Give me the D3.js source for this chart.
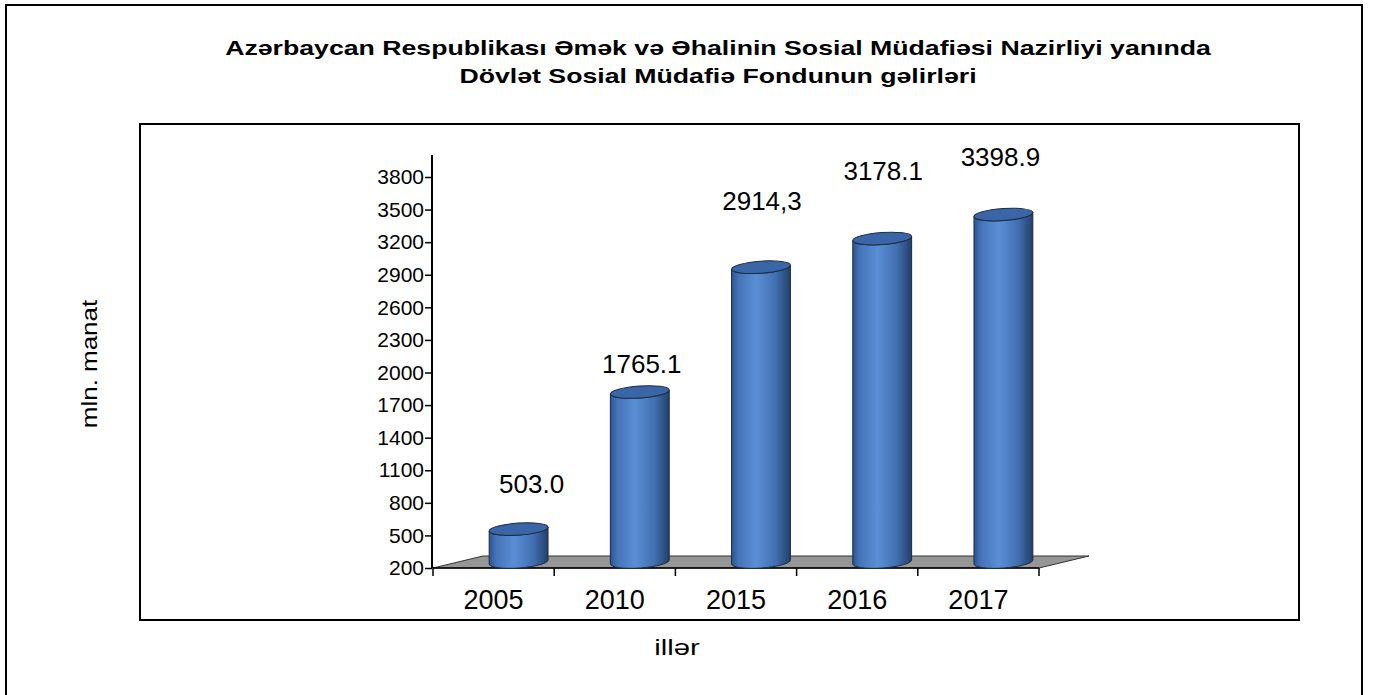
<!DOCTYPE html>
<html>
<head>
<meta charset="utf-8">
<script src="https://cdn.jsdelivr.net/npm/d3@7"></script>
<style>
body { margin: 0; background: #fff; }
text { font-family: "Liberation Sans", Arial, sans-serif; fill: #000; }
</style>
</head>
<body>
<div id="chart"></div>
<script>
// data
var years = ["2005", "2010", "2015", "2016", "2017"];
var income = [503.0, 1765.1, 2914.3, 3178.1, 3398.9];
var valueLabels = ["503.0", "1765.1", "2914,3", "3178.1", "3398.9"];
var yTicks = [200, 500, 800, 1100, 1400, 1700, 2000, 2300, 2600, 2900, 3200, 3500, 3800];
var titleLines = ["Azərbaycan Respublikası Əmək və Əhalinin Sosial Müdafiəsi Nazirliyi yanında",
                  "Dövlət Sosial Müdafiə Fondunun gəlirləri"];

var W = 1373, H = 695;
var svg = d3.select("#chart").append("svg").attr("width", W).attr("height", H);

// outer frame (bottom runs off the picture)
svg.append("path").attr("d", "M6,700 L6,5 L1362,5 L1362,700")
    .attr("fill", "none").attr("stroke", "#000").attr("stroke-width", 2);
// plot frame
svg.append("rect").attr("x", 140).attr("y", 124).attr("width", 1159).attr("height", 496)
    .attr("fill", "none").attr("stroke", "#000").attr("stroke-width", 2);

// title (the original text is drawn wide)
svg.selectAll(".title").data(titleLines).enter().append("text")
    .attr("transform", function (d, i) { return "translate(718," + (55 + i * 28) + ") scale(1.27,1)"; })
    .attr("text-anchor", "middle").attr("font-weight", "bold").attr("font-size", 21)
    .text(function (d) { return d; });

var y = d3.scaleLinear().domain([200, 3800]).range([568, 177]);
var x = d3.scaleBand().domain(years).range([433, 1039]);

var depthX = 50, depthY = -12;

// floor
var f0 = x.range()[0], f1 = x.range()[1], fy = y(200);
svg.append("path")
    .attr("d", "M" + f0 + "," + fy + "L" + f1 + "," + fy +
               "L" + (f1 + depthX) + "," + (fy + depthY) +
               "L" + (f0 + depthX) + "," + (fy + depthY) + "Z")
    .attr("fill", "#969696").attr("stroke", "#333").attr("stroke-width", 1);

// y axis
var yAxis = svg.append("g").attr("transform", "translate(432,0)")
    .call(d3.axisLeft(y).tickValues(yTicks).tickSize(7).tickPadding(1).tickFormat(d3.format("d")));
yAxis.select(".domain").remove();
yAxis.selectAll("line").attr("stroke", "#000").attr("stroke-width", 1.5);
yAxis.selectAll("text").attr("font-size", 21).attr("font-family", "Liberation Sans, Arial, sans-serif");
svg.append("line").attr("x1", 432).attr("x2", 432).attr("y1", 155).attr("y2", fy)
    .attr("stroke", "#000").attr("stroke-width", 2);

// x axis
var xAxis = svg.append("g").attr("transform", "translate(0," + fy + ")")
    .call(d3.axisBottom(x).tickSize(0).tickPadding(22));
xAxis.select(".domain").remove();
xAxis.selectAll("text").attr("font-size", 27).attr("font-family", "Liberation Sans, Arial, sans-serif");
var bounds = years.map(function (d) { return x(d); }).concat([f1]);
svg.selectAll(".xtick").data(bounds).enter().append("line")
    .attr("x1", function (d) { return d; }).attr("x2", function (d) { return d; })
    .attr("y1", fy).attr("y2", fy + 8).attr("stroke", "#000").attr("stroke-width", 1.5);
svg.append("line").attr("x1", f0).attr("x2", f1).attr("y1", fy).attr("y2", fy)
    .attr("stroke", "#000").attr("stroke-width", 1.5);

// cylinder gradient
var defs = svg.append("defs");
var grad = defs.append("linearGradient").attr("id", "body").attr("x1", "0").attr("x2", "1").attr("y1", "0").attr("y2", "0");
[["0%", "#2c5590"], ["12%", "#4574b8"], ["42%", "#5a8fd6"], ["75%", "#416fb0"], ["100%", "#233f68"]]
    .forEach(function (s) { grad.append("stop").attr("offset", s[0]).attr("stop-color", s[1]); });

var rx = 29.5, ry = 6, tilt = 4 * Math.PI / 180;
var ex = rx * Math.cos(tilt), ey = rx * Math.sin(tilt);

function cylBody(cx, top, bot) {
    return "M" + (cx - ex) + "," + (top + ey) +
           "L" + (cx - ex) + "," + (bot + ey) +
           "A" + rx + "," + ry + " -4 0,0 " + (cx + ex) + "," + (bot - ey) +
           "L" + (cx + ex) + "," + (top - ey) +
           "A" + rx + "," + ry + " -4 0,1 " + (cx - ex) + "," + (top + ey) + "Z";
}

var cyl = svg.selectAll(".cyl").data(years).enter().append("g");
cyl.append("path")
    .attr("d", function (d, i) {
        var cx = x(d) + x.bandwidth() / 2 + depthX / 2;
        return cylBody(cx, y(income[i]) + depthY / 2, fy + depthY / 2);
    })
    .attr("fill", "url(#body)").attr("stroke", "#1c2c44").attr("stroke-width", 1);
cyl.append("ellipse")
    .attr("cx", 0).attr("cy", 0).attr("rx", rx).attr("ry", ry)
    .attr("transform", function (d, i) {
        var cx = x(d) + x.bandwidth() / 2 + depthX / 2;
        return "translate(" + cx + "," + (y(income[i]) + depthY / 2) + ") rotate(-4)";
    })
    .attr("fill", "#3a65a6").attr("stroke", "#1c2c44").attr("stroke-width", 1);

// value labels (hand-placed as in the original)
var labelShift = [[13, -42], [2, -25], [1, -63], [1, -65], [-3, -55]];
svg.selectAll(".val").data(years).enter().append("text")
    .attr("x", function (d, i) { return x(d) + x.bandwidth() / 2 + depthX / 2 + labelShift[i][0]; })
    .attr("y", function (d, i) { return y(income[i]) + labelShift[i][1]; })
    .attr("text-anchor", "middle").attr("font-size", 26)
    .text(function (d, i) { return valueLabels[i]; });

// axis titles
svg.append("text").attr("transform", "translate(97,364) rotate(-90) scale(1.18,1)")
    .attr("text-anchor", "middle").attr("font-size", 22).text("mln. manat");
svg.append("text").attr("transform", "translate(677,655) scale(1.33,1)")
    .attr("text-anchor", "middle").attr("font-size", 22).text("illər");
</script>
</body>
</html>
